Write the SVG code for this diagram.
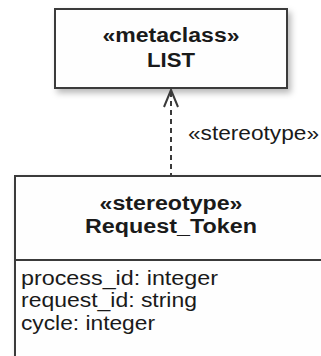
<svg xmlns="http://www.w3.org/2000/svg" width="321" height="356" viewBox="0 0 321 356">
  <defs>
    <filter id="shadow" x="-10%" y="-10%" width="130%" height="140%">
      <feDropShadow dx="3" dy="4" stdDeviation="3" flood-color="#000" flood-opacity="0.28"/>
    </filter>
  </defs>
  <style>
    .box { fill: #fefefe; stroke: #3a3a3a; stroke-width: 2; }
    .sep { stroke: #3a3a3a; stroke-width: 2; }
    .edge { fill: none; stroke: #3a3a3a; stroke-width: 2; }
    .dash { stroke-dasharray: 5 4; }
    .hd { font-family: "Liberation Sans", Arial, sans-serif; font-weight: bold; font-size: 20px; fill: #1a1a1a; text-anchor: middle; }
    .tx { font-family: "Liberation Sans", Arial, sans-serif; font-size: 19.5px; fill: #1a1a1a; }
  </style>
  <rect width="321" height="356" fill="#ffffff"/>

  <!-- metaclass -->
  <g id="node-list">
    <rect class="box" x="55" y="9" width="232" height="79" filter="url(#shadow)"/>
    <text class="hd" x="171" y="42" textLength="137" lengthAdjust="spacingAndGlyphs">«metaclass»</text>
    <text class="hd" x="171" y="67" textLength="48" lengthAdjust="spacingAndGlyphs">LIST</text>
  </g>

  <!-- stereotype -->
  <g id="node-request-token">
    <rect class="box" x="15" y="176" width="330" height="200" filter="url(#shadow)"/>
    <line class="sep" x1="15" y1="260" x2="345" y2="260"/>
    <text class="hd" x="171" y="210" textLength="143" lengthAdjust="spacingAndGlyphs">«stereotype»</text>
    <text class="hd" x="171" y="233" textLength="172" lengthAdjust="spacingAndGlyphs">Request_Token</text>
    <text class="tx" x="21" y="285" textLength="197" lengthAdjust="spacingAndGlyphs">process_id: integer</text>
    <text class="tx" x="21" y="307" textLength="176" lengthAdjust="spacingAndGlyphs">request_id: string</text>
    <text class="tx" x="21" y="330" textLength="134" lengthAdjust="spacingAndGlyphs">cycle: integer</text>
  </g>

  <!-- extension connector -->
  <g id="connectors">
    <line class="edge dash" x1="171" y1="92" x2="171" y2="176"/>
    <polyline class="edge" points="164,107 171,90 178,107"/>
    <text class="tx" x="188" y="140" textLength="131" lengthAdjust="spacingAndGlyphs">«stereotype»</text>
  </g>
</svg>
